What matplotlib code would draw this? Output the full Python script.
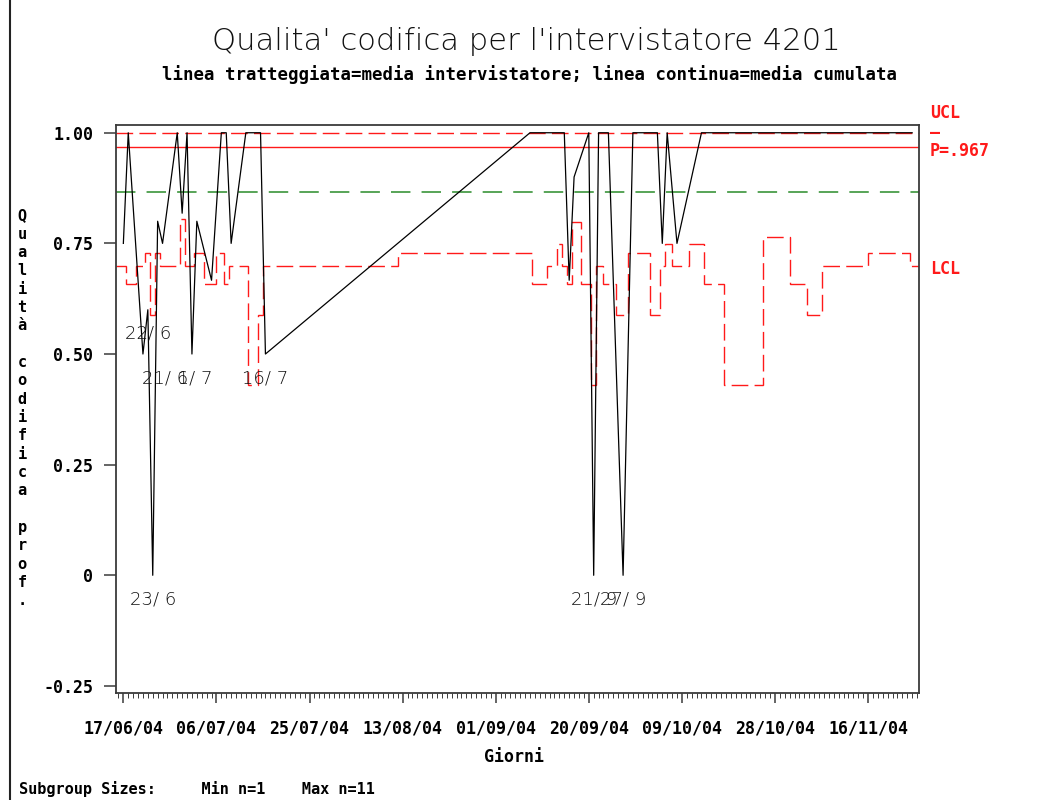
import datetime as dt

import matplotlib
matplotlib.use("Agg")
import matplotlib.dates as mdates
import matplotlib.pyplot as plt
import numpy as np
from matplotlib.lines import Line2D

# subgroups: day, conforming codings, subgroup size
dates = [
    "17/06/04", "18/06/04", "21/06/04", "22/06/04", "23/06/04", "24/06/04", "25/06/04",
    "28/06/04", "29/06/04", "30/06/04", "01/07/04", "02/07/04", "05/07/04", "07/07/04",
    "08/07/04", "09/07/04", "12/07/04", "13/07/04", "14/07/04", "15/07/04", "16/07/04",
    "08/09/04", "09/09/04", "11/09/04", "12/09/04", "13/09/04", "14/09/04", "15/09/04",
    "16/09/04", "17/09/04", "20/09/04", "21/09/04", "22/09/04", "24/09/04", "27/09/04",
    "29/09/04", "30/09/04", "02/10/04", "03/10/04", "04/10/04", "05/10/04", "06/10/04",
    "08/10/04", "13/10/04", "14/10/04", "17/10/04", "18/10/04", "22/10/04", "29/10/04",
    "02/11/04", "05/11/04", "08/11/04", "12/11/04", "15/11/04", "17/11/04", "21/11/04",
    "24/11/04", "25/11/04",
]
conforming = [
    3, 3, 2, 3, 0, 4, 3,
    4, 9, 4, 2, 4, 2, 5,
    3, 3, 4, 1, 1, 2, 2,
    5, 3, 3, 4, 4, 6, 4,
    2, 9, 3, 0, 4, 3, 0,
    5, 5, 5, 2, 2, 3, 6,
    3, 6, 3, 3, 1, 1, 7,
    3, 2, 4, 4, 4, 5, 5,
    5, 4,
]
sizes = [
    4, 3, 4, 5, 2, 5, 4,
    4, 11, 4, 4, 5, 3, 5,
    3, 4, 4, 1, 1, 2, 4,
    5, 3, 3, 4, 4, 6, 4,
    3, 10, 3, 1, 4, 3, 2,
    5, 5, 5, 2, 2, 4, 6,
    4, 6, 3, 3, 1, 1, 7,
    3, 2, 4, 4, 4, 5, 5,
    5, 4,
]

p_bar = 0.967              # media cumulata
interviewer_mean = 0.867   # media intervistatore

x_tick_dates = ["17/06/04", "06/07/04", "25/07/04", "13/08/04", "01/09/04",
                "20/09/04", "09/10/04", "28/10/04", "16/11/04"]
y_ticks = [1.0, 0.75, 0.5, 0.25, 0.0, -0.25]
y_tick_labels = ["1.00", "0.75", "0.50", "0.25", "0", "-0.25"]

title = "Qualita' codifica per l'intervistatore 4201"
subtitle = "linea tratteggiata=media intervistatore; linea continua=media cumulata"
y_label = "Qualità codifica prof."
x_label = "Giorni"

RED = "#ff1a1a"
GREEN = "#2a8c2a"
FRAME = "#3a3a3a"
MONO = dict(family="DejaVu Sans Mono", weight="bold")
THIN = dict(family=["DejaVu Sans", "Liberation Sans"], weight="light")

plt.rcParams["lines.scale_dashes"] = False


def to_num(s):
    return mdates.date2num(dt.datetime.strptime(s, "%d/%m/%y"))


def fit_width(fig, txt, width_px):
    fig.canvas.draw()
    w = txt.get_window_extent().width
    txt.set_fontsize(txt.get_fontsize() * width_px / w)


x = np.array([to_num(s) for s in dates])
k = np.array(conforming, dtype=float)
n = np.array(sizes, dtype=float)
prop = k / n
sigma = np.sqrt(p_bar * (1 - p_bar) / n)
lcl = p_bar - 3 * sigma
ucl = np.minimum(1.0, p_bar + 3 * sigma)

W, H = 1040, 800
fig = plt.figure(figsize=(W / 100, H / 100), dpi=100)
fig.patch.set_facecolor("white")
ax = fig.add_axes([116 / W, 1 - 693 / H, (919 - 116) / W, (693 - 125) / H])

x0 = to_num(x_tick_dates[0])
xmin, xmax = x0 - 1.5, x0 + 162.4
edges = np.concatenate([[xmin], (x[:-1] + x[1:]) / 2, [xmax]])

ax.stairs(ucl, edges, baseline=None, color=RED, lw=1.0, linestyle=(0, (12, 4.5)), zorder=2)
ax.stairs(lcl, edges, baseline=None, color=RED, lw=1.0, linestyle=(0, (12, 4.5)), zorder=2)
ax.axhline(p_bar, color=RED, lw=1.0, zorder=2)
ax.axhline(interviewer_mean, color=GREEN, lw=1.1, linestyle=(0, (14, 8)), zorder=2)
ax.plot(x, prop, color="black", lw=0.9, zorder=4)

# date labels for subgroups below the lower limit
nudge = {"21/06/04": 22}
for s, xi, pi, li in zip(dates, x, prop, lcl):
    if pi < li:
        d = dt.datetime.strptime(s, "%d/%m/%y")
        ax.annotate(f"{d.day:2d}/{d.month:2d}", (xi, pi), xytext=(nudge.get(s, 0), -24),
                    textcoords="offset pixels", ha="center", va="center",
                    fontsize=13, color="#111111", zorder=5, **THIN)

ax.set_xlim(xmin, xmax)
ax.set_ylim(-0.266, 1.0175)
ax.set_xticks([to_num(s) for s in x_tick_dates])
ax.xaxis.set_major_formatter(mdates.DateFormatter("%d/%m/%y"))
ax.xaxis.set_minor_locator(mdates.DayLocator())
ax.set_yticks(y_ticks, y_tick_labels)
for lab in ax.get_xticklabels() + ax.get_yticklabels():
    lab.set_fontfamily(MONO["family"])
    lab.set_fontweight(MONO["weight"])
    lab.set_fontsize(12)
ax.tick_params(axis="y", length=8.5, width=1.1, pad=8, color=FRAME)
ax.tick_params(axis="x", which="major", length=7, width=1.1, pad=12, color=FRAME)
ax.tick_params(axis="x", which="minor", length=3.5, width=0.7, color=FRAME)
for sp in ax.spines.values():
    sp.set_color(FRAME)
    sp.set_linewidth(1.3)

# control limit labels on the right
lab_kw = dict(xycoords=("axes fraction", "data"), textcoords="offset pixels",
              ha="left", va="center", color=RED, fontsize=12, **MONO)
ax.annotate("UCL", (1, 1.0), xytext=(11, 20), **lab_kw)
ax.annotate("_", (1, 1.0), xytext=(11, 8), **lab_kw)
ax.annotate("P=" + f"{p_bar:.3f}"[1:], (1, p_bar), xytext=(11, -4), **lab_kw)
ax.annotate("LCL", (1, lcl[-1]), xytext=(11, -3), **lab_kw)

t = fig.text(526.5 / W, 1 - 42 / H, title, ha="center", va="center", fontsize=30,
             color="#111111", **THIN)
st = fig.text(529 / W, 1 - 75 / H, subtitle, ha="center", va="center", fontsize=11, **MONO)
fit_width(fig, t, 627)
fit_width(fig, st, 728)

for i, ch in enumerate(y_label):
    fig.text(22 / W, 1 - (216 + i * 18.33) / H, ch, ha="center", va="center", fontsize=11, **MONO)

fig.text(514 / W, 1 - 757 / H, x_label, ha="center", va="center", fontsize=12, **MONO)
fig.text(19 / W, 1 - 789 / H, f"Subgroup Sizes:     Min n={min(sizes)}    Max n={max(sizes)}",
         ha="left", va="center", fontsize=11, **MONO)

fig.add_artist(Line2D([10 / W, 10 / W], [0, 1], color="#222222", lw=1.5))

fig.savefig("out.png", dpi=100)
